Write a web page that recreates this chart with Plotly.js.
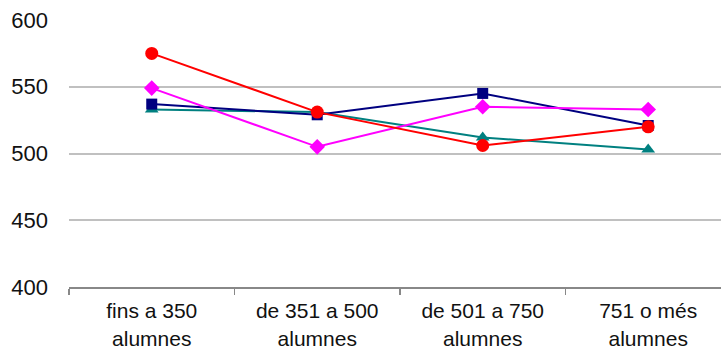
<!DOCTYPE html>
<html>
<head>
<meta charset="utf-8">
<script src="https://cdn.plot.ly/plotly-3.0.1.min.js"></script>
<style>html,body{margin:0;padding:0;background:#fff;}#chart{width:721px;height:354px;}</style>
</head>
<body>
<div id="chart"></div>
<script>
const categories = ["fins a 350<br>alumnes", "de 351 a 500<br>alumnes", "de 501 a 750<br>alumnes", "751 o més<br>alumnes"];
const seriesNavy = [537, 529, 545, 521];
const seriesMagenta = [549, 505, 535, 533];
const seriesRed = [575, 531, 506, 520];
const seriesTeal = [533, 531, 512, 503];
const yTicks = [400, 450, 500, 550, 600];

function tr(y, color, symbol, size) {
  return {x: categories, y: y, type: 'scatter', mode: 'lines+markers',
    line: {color: color, width: 2}, marker: {color: color, symbol: symbol, size: size}, showlegend: false};
}
const data = [
  tr(seriesTeal, '#008080', 'triangle-up', 12),
  tr(seriesNavy, '#000080', 'square', 11),
  tr(seriesMagenta, '#ff00ff', 'diamond', 12),
  tr(seriesRed, '#ff0000', 'circle', 13)
];
const layout = {
  width: 721, height: 354,
  margin: {l: 69, r: 0, t: 20, b: 67},
  paper_bgcolor: '#fff', plot_bgcolor: '#fff',
  font: {family: 'Liberation Sans, Arial, sans-serif', size: 21, color: '#111'},
  xaxis: {type: 'category', tickson: 'boundaries', ticks: 'outside', ticklen: 6, tickcolor: '#888', tickwidth: 1.5,
    showline: true, linecolor: '#888', linewidth: 2, showgrid: false, zeroline: false,
    ticklabelstandoff: 4, tickfont: {size: 21, color: '#111'}, range: [-0.5, 3.44]},
  yaxis: {range: [400, 600], tickvals: yTicks, ticktext: yTicks.map(String), showgrid: true, gridcolor: '#c0c0c0', gridwidth: 2,
    zeroline: false, showline: false, ticks: '', ticklabelstandoff: 20, tickfont: {size: 22, color: '#111'}}
};
Plotly.newPlot('chart', data, layout, {displayModeBar: false, staticPlot: true});
</script>
</body>
</html>
